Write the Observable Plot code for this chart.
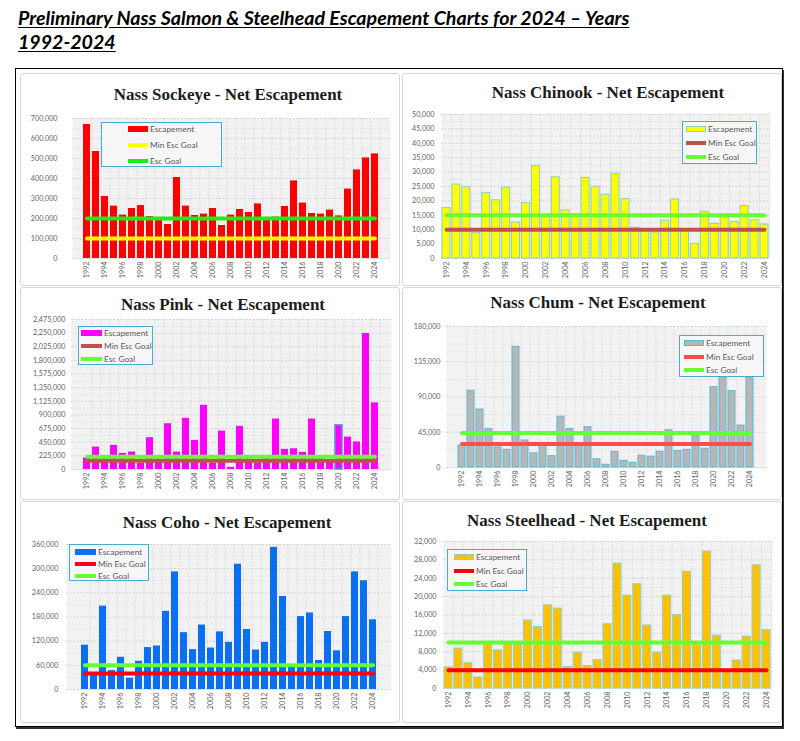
<!DOCTYPE html>
<html>
<head>
<meta charset="utf-8">
<script src="https://cdn.jsdelivr.net/npm/d3@7"></script>
<script src="https://cdn.jsdelivr.net/npm/@observablehq/plot@0.6"></script>
<style>
  html, body { margin: 0; padding: 0; background: #ffffff; }
  #page { position: relative; width: 800px; height: 741px; overflow: hidden; background: #fff; }
  #header { position: absolute; left: 18px; top: 6px; font-family: Lato, "Open Sans", sans-serif; font-weight: 700; font-style: italic; font-size: 19.6px; line-height: 24px; color: #000; text-decoration: underline; text-underline-offset: 2px; white-space: nowrap; }
  #outer { position: absolute; left: 15px; top: 68px; width: 766px; height: 657px; border: 1.5px solid #000; box-shadow: 1px 2px 0 #333; }
  .cell { position: absolute; border: 1px solid #d6d6d6; border-radius: 3px; background: #fff; }
  .ptitle { position: absolute; transform: translate(-50%, -50%); font-family: "Liberation Serif", serif; font-weight: 700; font-size: 17px; color: #1c1c1c; white-space: nowrap; }
  .plotwrap { position: absolute; }
  .legend { position: absolute; border: 1px solid #4bacc6; background: #f6f6f6; box-sizing: border-box; }
  .lrow { position: absolute; left: 0; height: 10px; transform: translateY(-50%); }
  .lsw { position: absolute; top: 50%; transform: translateY(-50%); box-sizing: border-box; }
  .ltx { position: absolute; top: 50%; transform: translateY(-50%); font-family: Lato, sans-serif; font-size: 8.3px; color: #595959; white-space: nowrap; }
</style>
</head>
<body>
<div id="page">
  <div id="header">Preliminary Nass Salmon &amp; Steelhead Escapement Charts for 2024 – Years<br>1992-2024</div>
  <div id="outer"></div>
</div>
<script>
// ---------- data ----------
const years = [1992,1993,1994,1995,1996,1997,1998,1999,2000,2001,2002,2003,2004,2005,2006,2007,2008,2009,2010,2011,2012,2013,2014,2015,2016,2017,2018,2019,2020,2021,2022,2023,2024];
const seriesLabels = ["Escapement", "Min Esc Goal", "Esc Goal"];

const sockeye = [670000,535000,310000,262000,217000,250000,265000,210000,193000,170000,405000,262000,215000,222000,250000,165000,217000,245000,230000,273000,195000,207000,260000,388000,277000,225000,222000,242000,213000,347000,443000,503000,523000];
const sockeyeGoals = [100000, 200000];
const sockeyeTicks = [0,100000,200000,300000,400000,500000,600000,700000];

const chinook = [17500,25700,24800,8800,22700,20200,24600,12500,19200,32200,14700,28200,16700,15300,28000,24900,22100,29500,20700,10700,9800,9000,13100,20500,9700,5100,16300,12000,14300,12700,18200,13300,11800];
const chinookGoals = [10000, 15000];
const chinookTicks = [0,5000,10000,15000,20000,25000,30000,35000,40000,45000,50000];

const pink = [190000,370000,175000,398000,266000,288000,106000,525000,176000,755000,288000,843000,480000,1060000,106000,634000,35000,712000,176000,106000,188000,833000,332000,342000,282000,833000,188000,150000,728000,535000,455000,2245000,1100000];
const pinkGoals = [145000, 210000];
const pinkTicks = [0,225000,450000,675000,900000,1125000,1350000,1575000,1800000,2025000,2250000,2475000];
const pinkOutlinedYear = 2020;

const chum = [28000,98000,74000,49000,25500,22500,154000,34500,18000,28500,14500,65000,49000,28000,51500,10500,3500,20000,8500,6000,15000,13800,20000,47500,21000,22500,44000,24000,102500,118000,97500,53500,115000];
const chumGoals = [30000, 44000];
const chumTicks = [0,45000,90000,135000,180000];

const coho = [110000,40000,207000,47000,80000,28000,70000,104000,108000,194000,292000,141000,99000,160000,103000,143000,117000,311000,149000,98000,117000,353000,231000,58000,181000,190000,72000,144000,96000,181000,292000,270000,173000];
const cohoGoals = [40000, 60000];
const cohoTicks = [0,60000,120000,180000,240000,300000,360000];

const steelhead = [4600,8700,5500,2400,9800,8300,9700,9600,14800,13400,18100,17400,4700,7800,4900,6200,14000,27200,20200,22700,13700,7800,20200,16000,25400,9700,29800,11500,3800,6100,11300,26800,12700];
const steelheadGoals = [4000, 10000];
const steelheadTicks = [0,4000,8000,12000,16000,20000,24000,28000,32000];

// ---------- panels (content + layout/style) ----------
const panels = [
  {title: "Nass Sockeye - Net Escapement", values: sockeye, goals: sockeyeGoals, ticks: sockeyeTicks,
   style: {bar: "#ff0000", barStroke: "none", min: "#ffff00", esc: "#19f019"},
   L: {x0: 72, x1: 390, yTop: 118, yZero: 258, tickPad: 15, tx: 228, ty: 95,
       leg: {left: 101, top: 122, w: 121, h: 45, sw: 26, swW: 20, tx: 48, r0: 6, gap: 16}}},
  {title: "Nass Chinook - Net Escapement", values: chinook, goals: chinookGoals, ticks: chinookTicks,
   style: {bar: "#ffff00", barStroke: "#86d3c2", min: "#c0504d", esc: "#66ff33"},
   L: {x0: 441, x1: 769, yTop: 114, yZero: 258, tickPad: 7, tx: 608, ty: 93,
       leg: {left: 682, top: 121, w: 75, h: 43, sw: 3, swW: 20, tx: 25, r0: 7, gap: 14}}},
  {title: "Nass Pink - Net Escapement", values: pink, goals: pinkGoals, ticks: pinkTicks, outlined: pinkOutlinedYear,
   style: {bar: "#ff00ff", barStroke: "none", min: "#c0504d", esc: "#66ff33"},
   L: {x0: 71, x1: 391, yTop: 319, yZero: 469, tickPad: 6, tx: 223, ty: 305,
       leg: {left: 78, top: 326, w: 75, h: 39, sw: 2, swW: 21, tx: 25, r0: 6, gap: 13}}},
  {title: "Nass Chum - Net Escapement", values: chum, goals: chumGoals, ticks: chumTicks,
   style: {bar: "#b7b7b7", barStroke: "#5bb7d6", min: "#ff4d4d", esc: "#66ff33"},
   L: {x0: 446, x1: 766, yTop: 326, yZero: 467, tickPad: 6, tx: 598, ty: 303,
       leg: {left: 679, top: 335, w: 85, h: 42, sw: 4, swW: 20, tx: 26, r0: 7, gap: 13.5}}},
  {title: "Nass Coho - Net Escapement", values: coho, goals: cohoGoals, ticks: cohoTicks,
   style: {bar: "#0a6ff0", barStroke: "none", min: "#f5001e", esc: "#66ff33"},
   L: {x0: 66, x1: 391, yTop: 544, yZero: 689, tickPad: 8, tx: 227, ty: 523,
       leg: {left: 69, top: 544, w: 80, h: 37, sw: 5, swW: 21, tx: 28, r0: 7, gap: 12}}},
  {title: "Nass Steelhead - Net Escapement", values: steelhead, goals: steelheadGoals, ticks: steelheadTicks,
   style: {bar: "#ffc000", barStroke: "#8fd0c4", min: "#ff0000", esc: "#66ff33"},
   L: {x0: 443, x1: 771, yTop: 541, yZero: 688, tickPad: 7, tx: 587, ty: 521,
       leg: {left: 447, top: 549, w: 80, h: 42, sw: 6, swW: 20, tx: 28, r0: 7, gap: 13.5}}}
];

const cells = [
  {left: 20, top: 73, w: 378, h: 211}, {left: 402, top: 73, w: 378, h: 211},
  {left: 20, top: 287, w: 378, h: 211}, {left: 402, top: 287, w: 378, h: 211},
  {left: 20, top: 501, w: 378, h: 220}, {left: 402, top: 501, w: 378, h: 220}
];

const page = document.getElementById("page");
cells.forEach(c => {
  const d = document.createElement("div");
  d.className = "cell";
  Object.assign(d.style, {left: c.left + "px", top: c.top + "px", width: c.w + "px", height: c.h + "px"});
  page.appendChild(d);
});

const fmt = d3.format(",");
const pI = 0.2, pO = 0.1;

panels.forEach(p => {
  const L = p.L, S = p.style;
  const data = years.map((year, i) => ({year, value: p.values[i]}));
  const W = L.x1 - L.x0, H = L.yZero - L.yTop;
  const mL = 56, mR = 4, mT = 4, mB = 30;
  const step = W / (years.length - pI + 2 * pO);
  const yMax = p.ticks[p.ticks.length - 1];

  const chart = Plot.plot({
    width: W + mL + mR,
    height: H + mT + mB,
    marginLeft: mL, marginRight: mR, marginTop: mT, marginBottom: mB,
    style: {background: "transparent", fontFamily: "Lato, sans-serif", fontSize: "7.2px", color: "#636363"},
    x: {type: "band", domain: years, paddingInner: pI, paddingOuter: pO, tickRotate: -90, tickSize: 0, tickPadding: 3,
        tickFormat: d => (d % 2 ? "" : String(d)), label: null},
    y: {domain: [0, yMax], ticks: p.ticks, tickFormat: fmt, tickSize: 0, tickPadding: L.tickPad, label: null},
    marks: [
      Plot.frame({fill: "#f2f2f2", stroke: "none"}),
      Plot.ruleY(p.ticks, {stroke: "#d2d2d2", strokeDasharray: "2,1.5"}),
      Plot.ruleY(p.ticks.slice(1).map((t, i) => (t + p.ticks[i]) / 2), {stroke: "#e2e2e2", strokeDasharray: "1.5,1.5"}),
      Plot.ruleX(years, {x: d => d, dx: step / 2, stroke: "#dadada", strokeDasharray: "2,1.5"}),
      Plot.barY(data, {x: "year", y: "value", fill: S.bar,
        stroke: d => (p.outlined === d.year ? "#5b8fe0" : S.barStroke),
        strokeWidth: d => (p.outlined === d.year ? 1.6 : 1)}),
      Plot.lineY(years, {x: d => d, y: () => p.goals[0], stroke: S.min, strokeWidth: 4}),
      Plot.lineY(years, {x: d => d, y: () => p.goals[1], stroke: S.esc, strokeWidth: 4})
    ]
  });
  const wrap = document.createElement("div");
  wrap.className = "plotwrap";
  wrap.style.left = (L.x0 - mL) + "px";
  wrap.style.top = (L.yTop - mT) + "px";
  wrap.appendChild(chart);
  page.appendChild(wrap);

  // title
  const t = document.createElement("div");
  t.className = "ptitle";
  t.style.left = L.tx + "px";
  t.style.top = L.ty + "px";
  t.textContent = p.title;
  page.appendChild(t);

  // legend
  const g = L.leg;
  const leg = document.createElement("div");
  leg.className = "legend";
  Object.assign(leg.style, {left: g.left + "px", top: g.top + "px", width: g.w + "px", height: g.h + "px"});
  const swatches = [
    {bg: S.bar, border: S.barStroke === "none" ? "none" : ("1px solid " + S.barStroke), h: 6},
    {bg: S.min, border: "none", h: 4},
    {bg: S.esc, border: "none", h: 4}
  ];
  seriesLabels.forEach((lab, i) => {
    const row = document.createElement("div");
    row.className = "lrow";
    row.style.top = (g.r0 + i * g.gap) + "px";
    row.style.width = g.w + "px";
    const sw = document.createElement("div");
    sw.className = "lsw";
    Object.assign(sw.style, {left: g.sw + "px", width: g.swW + "px", height: swatches[i].h + "px",
      background: swatches[i].bg, border: swatches[i].border});
    const tx = document.createElement("div");
    tx.className = "ltx";
    tx.style.left = g.tx + "px";
    tx.textContent = lab;
    row.appendChild(sw);
    row.appendChild(tx);
    leg.appendChild(row);
  });
  page.appendChild(leg);
});
</script>
</body>
</html>
